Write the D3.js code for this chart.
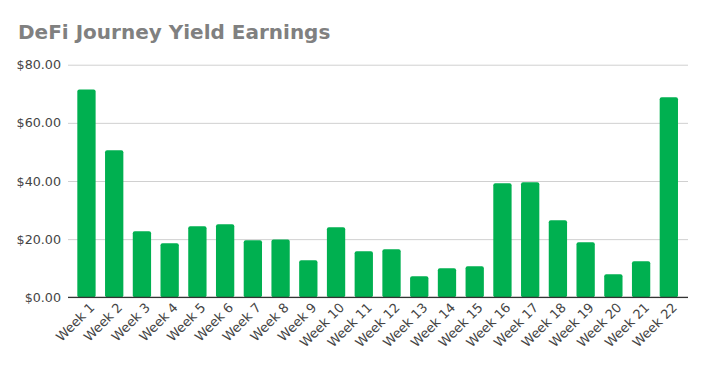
<!DOCTYPE html>
<html><head><meta charset="utf-8">
<script src="https://cdn.jsdelivr.net/npm/d3@7"></script>
<style>body{margin:0;background:#fff}svg{display:block}</style>
</head><body>
<script>
const categories = ["Week 1","Week 2","Week 3","Week 4","Week 5","Week 6","Week 7","Week 8","Week 9","Week 10","Week 11","Week 12","Week 13","Week 14","Week 15","Week 16","Week 17","Week 18","Week 19","Week 20","Week 21","Week 22"];
const values = [71.5,50.6,22.7,18.6,24.4,25.1,19.6,19.9,12.7,24.1,15.8,16.5,7.2,10.0,10.7,39.2,39.6,26.5,18.9,7.9,12.4,68.8];
const yTicks = [0,20,40,60,80];
const title = "DeFi Journey Yield Earnings";

const W=706,H=367;
const svg=d3.select("body").append("svg").attr("width",W).attr("height",H);
const x=d3.scaleBand().domain(categories).range([72.6,682.7]).paddingInner(0.34).paddingOuter(0.17);
const y=d3.scaleLinear().domain([0,80]).range([297.3,64.7]);

svg.append("text").attr("x",18).attr("y",39).text(title)
  .attr("font-family","DejaVu Sans").attr("font-weight","bold").attr("font-size",20).attr("fill","#808080");

const yAxis=svg.append("g").attr("transform","translate(68,0)")
  .call(d3.axisLeft(y).tickValues(yTicks).tickSize(-620).tickFormat(d=>"$"+d3.format(".2f")(d)));
yAxis.select(".domain").remove();
yAxis.selectAll(".tick line").attr("stroke","#d0d0d0");
yAxis.selectAll(".tick text").attr("x",-7).attr("font-family","DejaVu Sans").attr("font-size",12.7).attr("fill","#444");

svg.append("g").selectAll("rect").data(values).join("rect")
  .attr("x",(d,i)=>x(categories[i])).attr("width",x.bandwidth())
  .attr("y",d=>y(d)).attr("height",d=>y(0)-y(d)).attr("rx",2)
  .attr("fill","#00b050");

svg.append("line").attr("x1",68).attr("x2",688).attr("y1",y(0)).attr("y2",y(0)).attr("stroke","#333").attr("stroke-width",1.2);

const xAxis=svg.append("g").attr("transform",`translate(0,${y(0)})`).call(d3.axisBottom(x).tickSize(0));
xAxis.select(".domain").remove();
xAxis.selectAll(".tick text").attr("font-family","DejaVu Sans").attr("font-size",13).attr("fill","#444")
  .attr("text-anchor","end").attr("dy",0).attr("y",0)
  .attr("transform","translate(9,11) rotate(-45)");
</script>
</body></html>
